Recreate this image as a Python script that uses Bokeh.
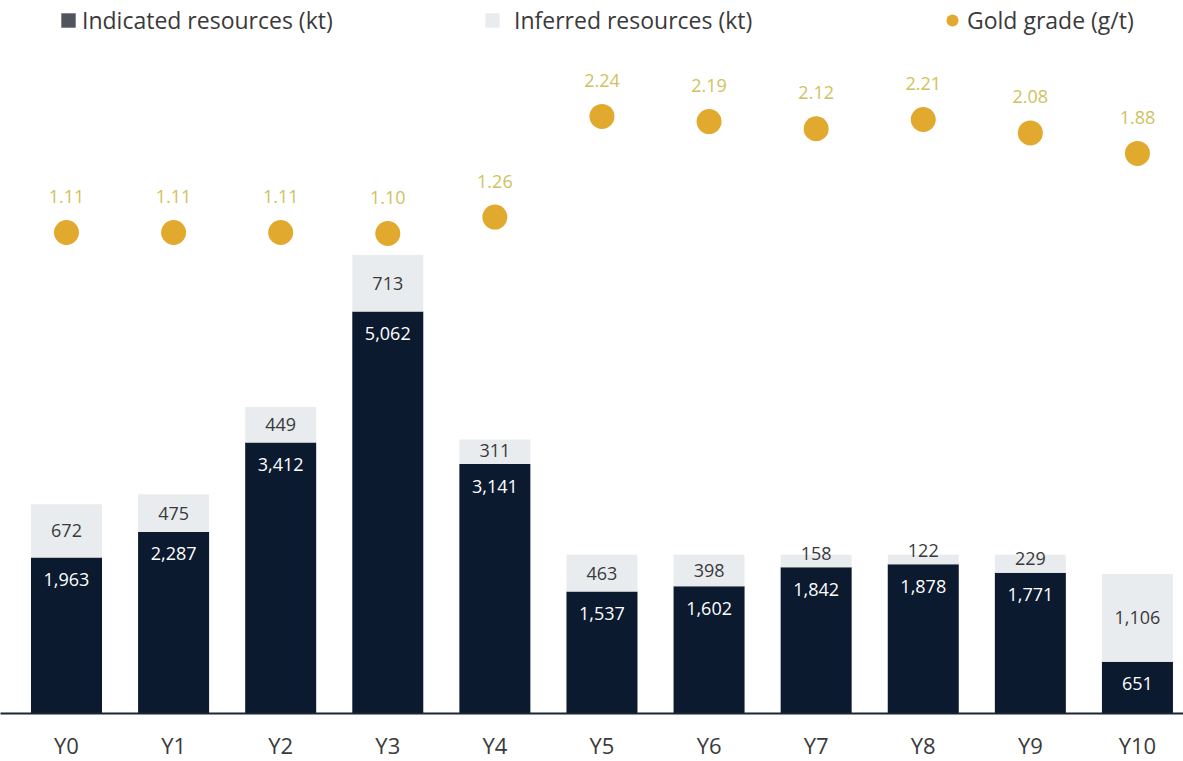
from bokeh.plotting import figure
from bokeh.models import Range1d, FixedTicker, ColumnDataSource, Legend, LegendItem
from bokeh.core.properties import value
from bokeh.embed import file_html
from bokeh.resources import INLINE

years = ["Y0", "Y1", "Y2", "Y3", "Y4", "Y5", "Y6", "Y7", "Y8", "Y9", "Y10"]
indicated = [1963, 2287, 3412, 5062, 3141, 1537, 1602, 1842, 1878, 1771, 651]
inferred = [672, 475, 449, 713, 311, 463, 398, 158, 122, 229, 1106]
grade = [1.11, 1.11, 1.11, 1.10, 1.26, 2.24, 2.19, 2.12, 2.21, 2.08, 1.88]

FONT = "Open Sans"
NAVY = "#0b1a2f"
LIGHT = "#e9ecef"
GOLD = "#e2a92f"
GOLD_TXT = "#cfc25e"
TXT = "#3a3a3a"

FRAME_H = 713
Y_TOP = 8979
KT_PER_PX = Y_TOP / float(FRAME_H)
xs = list(range(len(years)))
total = [a + b for a, b in zip(indicated, inferred)]
inf_lbl_y = [max(a + b / 2.0, a + 14 * KT_PER_PX) for a, b in zip(indicated, inferred)]

src = ColumnDataSource(dict(
    x=xs, ind=indicated, inf=inferred, tot=total, infy=inf_lbl_y, grade=grade,
    ind_lbl=[f"{v:,}" for v in indicated],
    inf_lbl=[f"{v:,}" for v in inferred],
    g_lbl=[f"{v:.2f}" for v in grade],
))

p = figure(frame_width=1183, frame_height=FRAME_H,
           x_range=Range1d(-0.6162, 10.430), y_range=Range1d(0, Y_TOP),
           output_backend="svg", toolbar_location=None, y_axis_location=None,
           min_border=0, outline_line_color=None, background_fill_color="white",
           border_fill_color="white")
p.extra_y_ranges = {"grade": Range1d(-3.5736, 3.369)}
p.xgrid.visible = False
p.ygrid.visible = False

BW = 0.663
p.vbar(x="x", top="ind", width=BW, source=src, fill_color=NAVY, line_color=None)
r_inf = p.vbar(x="x", bottom="ind", top="tot", width=BW, source=src,
               fill_color=LIGHT, line_color=None)

p.text(x="x", y="ind", text="ind_lbl", source=src, y_offset=22,
       text_align="center", text_baseline="middle", text_color="#ffffff",
       text_font=value(FONT), text_font_size="18px")
p.text(x="x", y="infy", text="inf_lbl", source=src,
       text_align="center", text_baseline="middle", text_color=TXT,
       text_font=value(FONT), text_font_size="18px")

r_g = p.scatter(x="x", y="grade", source=src, size=25, fill_color=GOLD, line_color=None,
                y_range_name="grade")
p.text(x="x", y="grade", text="g_lbl", source=src, y_range_name="grade", y_offset=-36,
       text_align="center", text_baseline="middle", text_color=GOLD_TXT,
       text_font=value(FONT), text_font_size="18px")

# axis
ax = p.xaxis[0]
ax.ticker = FixedTicker(ticks=xs)
ax.major_label_overrides = {i: y for i, y in zip(xs, years)}
ax.axis_line_color = "#1b2535"
ax.axis_line_width = 2
ax.major_tick_line_color = None
ax.minor_tick_line_color = None
ax.major_tick_out = 0
ax.major_tick_in = 0
ax.major_label_standoff = 16
ax.major_label_text_font = FONT
ax.major_label_text_font_size = "22px"
ax.major_label_text_color = TXT

# legend swatch for indicated (zero-height bar, only used for the legend colour)
r_ind_sw = p.vbar(x=xs[:1], top=[0], bottom=[0], width=0.1,
                  fill_color="#50545c", line_color=None)

def mk_legend(label, r, loc, gw, gh, standoff):
    lg = Legend(items=[LegendItem(label=label, renderers=[r])], location=loc,
                orientation="horizontal", glyph_width=gw, glyph_height=gh,
                label_standoff=standoff, padding=0, margin=0, spacing=0,
                border_line_color=None, background_fill_alpha=0,
                label_text_font=FONT, label_text_font_size="23px",
                label_text_color=TXT, label_height=20)
    p.add_layout(lg)

mk_legend("Indicated resources (kt)", r_ind_sw, (59, 677), 18, 18, 5)
mk_legend("Inferred resources (kt)", r_inf, (483, 677), 18, 18, 13)
mk_legend("Gold grade (g/t)", r_g, (937, 677), 30, 30, 0)

open("out.html", "w").write(file_html(p, INLINE))
